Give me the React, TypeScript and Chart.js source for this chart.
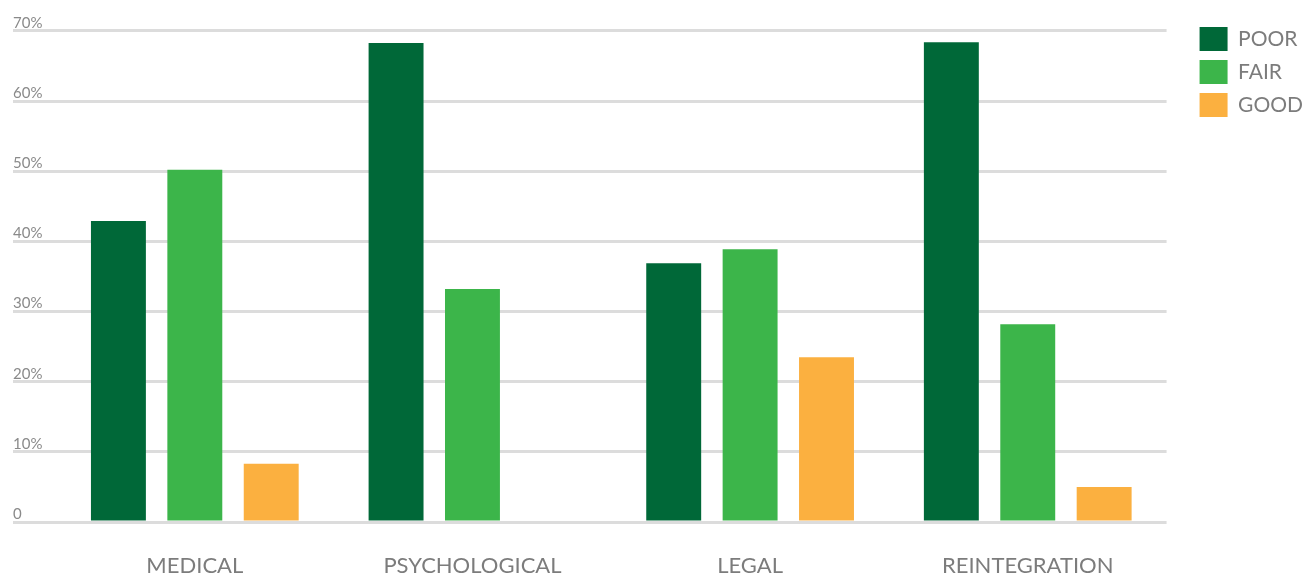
import React, { useEffect, useRef } from "react";
import { Chart, registerables } from "chart.js";

Chart.register(...registerables);

// Service categories along the x axis
const categories = ["MEDICAL", "PSYCHOLOGICAL", "LEGAL", "REINTEGRATION"];

// Share of ratings per category (percent)
const poorValues = [42.9, 68.3, 36.9, 68.4];
const fairValues = [50.2, 33.2, 38.9, 28.2];
const goodValues = [8.3, 0, 23.5, 5.0];

// Y axis tick values (percent)
const yTickValues = [0, 10, 20, 30, 40, 50, 60, 70];

const COLORS = {
  poor: "#006838",
  fair: "#3cb54a",
  good: "#fbb040",
  grid: "#dcdcdc",
  tick: "#8a8a8a",
  label: "#7c7c7c",
};

export default function App() {
  const canvasRef = useRef<HTMLCanvasElement | null>(null);

  useEffect(() => {
    if (!canvasRef.current) return;
    const chart = new Chart(canvasRef.current, {
      type: "bar",
      data: {
        labels: categories,
        datasets: [
          { label: "POOR", data: poorValues, backgroundColor: COLORS.poor, borderWidth: 0 },
          { label: "FAIR", data: fairValues, backgroundColor: COLORS.fair, borderWidth: 0 },
          { label: "GOOD", data: goodValues, backgroundColor: COLORS.good, borderWidth: 0 },
        ],
      },
      options: {
        responsive: false,
        animation: false,
        devicePixelRatio: 1,
        categoryPercentage: 0.8255,
        barPercentage: 0.719,
        layout: { padding: { left: 13, top: 18, right: -5, bottom: 0 } },
        plugins: {
          tooltip: { enabled: false },
          legend: {
            position: "right",
            align: "start",
            labels: {
              boxWidth: 28,
              boxHeight: 24,
              padding: 9,
              color: COLORS.label,
              font: { family: "Lato", size: 21 },
            },
          },
        },
        scales: {
          x: {
            grid: { display: false, drawTicks: false },
            border: { display: false },
            ticks: {
              color: COLORS.label,
              font: { family: "Lato", size: 22 },
              padding: 31,
              maxRotation: 0,
              autoSkip: false,
            },
            afterFit: (scale: any) => {
              scale.height = 52;
            },
          },
          y: {
            min: 0,
            max: 71.85,
            grid: {
              color: COLORS.grid,
              lineWidth: 3,
              drawTicks: true,
              tickLength: 43,
            },
            border: { display: false },
            ticks: {
              color: COLORS.tick,
              font: { family: "Lato", size: 15 },
              crossAlign: "far",
              labelOffset: -8,
              padding: 0,
              callback: (v: any) => (Number(v) === 0 ? "0" : `${v}%`),
            },
            afterBuildTicks: (scale: any) => {
              scale.ticks = yTickValues.map((v) => ({ value: v }));
            },
            afterFit: (scale: any) => {
              scale.width = 43;
            },
          },
          pad: {
            type: "linear",
            position: "right",
            display: true,
            grid: { display: false, drawTicks: false },
            border: { display: false },
            ticks: { display: false },
            afterFit: (scale: any) => {
              scale.width = 24;
            },
          },
        },
      },
    } as any);
    return () => chart.destroy();
  }, []);

  return (
    <div style={{ position: "fixed", left: 0, top: 0, width: 1308, height: 574, background: "#ffffff" }}>
      <canvas ref={canvasRef} width={1308} height={574} style={{ display: "block" }} />
    </div>
  );
}
